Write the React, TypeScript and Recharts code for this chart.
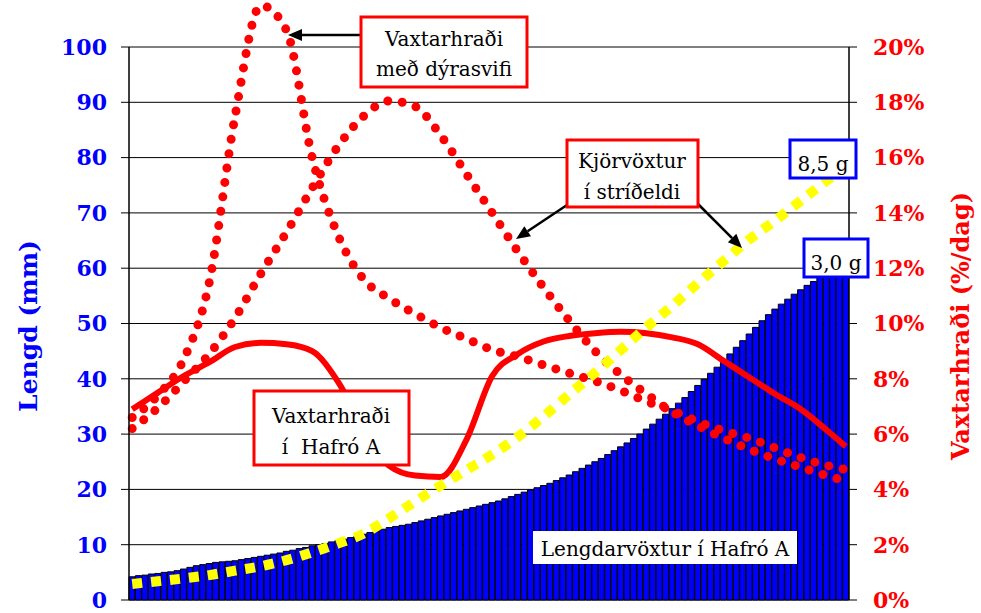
import { ComposedChart, Bar, Line, XAxis, YAxis, CartesianGrid } from 'recharts';

// Lengd (mm) per day, bars
const lengthMm = [
  4.2, 4.4, 4.5, 4.7, 4.8, 5.0, 5.1, 5.3, 5.6, 5.9,
  6.2, 6.4, 6.6, 6.8, 6.9, 7.0, 7.1, 7.3, 7.5, 7.7,
  7.9, 8.1, 8.3, 8.5, 8.8, 9.0, 9.3, 9.5, 9.8, 10.0,
  10.2, 10.5, 10.7, 11.0, 11.3, 11.6, 11.9, 12.2, 12.5, 12.8,
  13.1, 13.3, 13.5, 13.7, 14.0, 14.3, 14.6, 14.9, 15.2, 15.5,
  15.8, 16.1, 16.4, 16.7, 17.0, 17.3, 17.6, 17.9, 18.3, 18.7,
  19.1, 19.5, 19.9, 20.3, 20.7, 21.1, 21.6, 22.1, 22.6, 23.2,
  23.8, 24.4, 25.0, 25.6, 26.3, 27.0, 27.7, 28.4, 29.2, 30.0,
  30.9, 31.8, 32.7, 33.6, 34.6, 35.6, 36.6, 37.7, 38.8, 39.9,
  41.0, 42.1, 43.3, 44.5, 45.7, 46.9, 48.1, 49.3, 50.5, 51.6,
  52.6, 53.5, 54.4, 55.3, 56.1, 56.9, 57.6, 58.3, 59.0, 59.6,
  60.1, 60.6,
];

const sampleDays = [0, 4, 8, 12, 16, 20, 24, 28, 32, 36, 40, 44, 48, 52, 56, 60, 64, 68, 72, 76, 80, 84, 88, 92, 96, 100, 104, 108, 111];

// Vaxtarhraði í Hafró A (%/dag)
const rateHafro = [6.9, 7.5, 8.1, 8.6, 9.15, 9.3, 9.25, 9.0, 7.9, 6.2, 4.85, 4.5, 4.45, 5.8, 8.1, 8.9, 9.35, 9.55, 9.65, 9.7, 9.65, 9.5, 9.25, 8.65, 8.05, 7.45, 6.9, 6.15, 5.55];
// Vaxtarhraði með dýrasvifi (%/dag)
const rateZoo = [6.6, 7.4, 8.7, 11.5, 17.5, 21.5, 20.6, 16.0, 13.2, 11.6, 10.9, 10.35, 9.85, 9.45, 9.05, 8.8, 8.5, 8.2, 7.92, 7.58, 7.18, 6.85, 6.45, 6.12, 5.85, 5.5, 5.15, 4.87, 4.72];
// Kjörvöxtur í stríðeldi (%/dag)
const rateBest = [6.2, 6.95, 7.9, 8.9, 10.2, 11.8, 13.3, 14.9, 16.4, 17.5, 18.05, 17.85, 16.8, 15.4, 14.0, 12.6, 11.3, 10.1, 9.0, 8.15, 7.45, 6.8, 6.3, 5.85, 5.45, 5.1, 4.8, 4.5, 4.3];
// length with optimal growth (mm), yellow
const lengthBest = [2.9, 3.4, 3.9, 4.5, 5.3, 6.1, 7.2, 8.6, 10.2, 12.0, 14.8, 17.8, 20.7, 23.5, 26.3, 29.5, 33.2, 37.2, 41.1, 45.2, 49.3, 53.2, 57.3, 61.3, 65.2, 68.6, 72.2, 75.8, 78.4];

const lengthTicks = [0, 10, 20, 30, 40, 50, 60, 70, 80, 90, 100];
const rateTicks = [0, 2, 4, 6, 8, 10, 12, 14, 16, 18, 20];

const data = lengthMm.map((len, i) => {
  const k = sampleDays.indexOf(i);
  return {
    day: i + 1,
    len,
    hafro: k >= 0 ? rateHafro[k] : null,
    zoo: k >= 0 ? rateZoo[k] : null,
    best: k >= 0 ? rateBest[k] : null,
    lenBest: k >= 0 ? lengthBest[k] : null,
  };
});

const font = "'DejaVu Serif', serif";
const RED = '#FF0000';
const BLUE = '#0000FF';

const Arrow = ({ x1, y1, x2, y2 }: { x1: number; y1: number; x2: number; y2: number }) => {
  const a = Math.atan2(y2 - y1, x2 - x1);
  const len = 14;
  const w = 6;
  const bx = x2 - len * Math.cos(a);
  const by = y2 - len * Math.sin(a);
  const p1 = `${bx + w * Math.sin(a)},${by - w * Math.cos(a)}`;
  const p2 = `${bx - w * Math.sin(a)},${by + w * Math.cos(a)}`;
  return (
    <g>
      <line x1={x1} y1={y1} x2={bx} y2={by} stroke="#000" strokeWidth={2.5} />
      <polygon points={`${x2},${y2} ${p1} ${p2}`} fill="#000" />
    </g>
  );
};

const Overlay = () => (
  <svg width={981} height={613} style={{ position: 'absolute', left: 0, top: 0, pointerEvents: 'none' }}>
    <text x={28} y={326} transform="rotate(-90 28 326)" textAnchor="middle" dominantBaseline="central"
      fill={BLUE} fontFamily={font} fontWeight="bold" fontSize={25}>Lengd (mm)</text>
    <text x={960} y={326} transform="rotate(-90 960 326)" textAnchor="middle" dominantBaseline="central"
      fill={RED} fontFamily={font} fontWeight="bold" fontSize={24}>Vaxtarhraði (%/dag)</text>

    <Arrow x1={360} y1={35} x2={288} y2={35} />
    <rect x={361} y={17} width={166} height={70} fill="#fff" stroke={RED} strokeWidth={3} />
    <text x={444} y={46} textAnchor="middle" fontFamily={font} fontSize={20}>Vaxtarhraði</text>
    <text x={444} y={76} textAnchor="middle" fontFamily={font} fontSize={20}>með dýrasvifi</text>

    <Arrow x1={567} y1={205} x2={516} y2={239} />
    <Arrow x1={698} y1={204} x2={742} y2={248} />
    <rect x={567} y={140} width={131} height={67} fill="#fff" stroke={RED} strokeWidth={3} />
    <text x={632} y={168} textAnchor="middle" fontFamily={font} fontSize={20}>Kjörvöxtur</text>
    <text x={632} y={199} textAnchor="middle" fontFamily={font} fontSize={20}>í stríðeldi</text>

    <rect x={790} y={140} width={66} height={38} fill="#fff" stroke={BLUE} strokeWidth={3} />
    <text x={823} y={171} textAnchor="middle" fontFamily={font} fontSize={20}>8,5 g</text>
    <rect x={804} y={239} width={64} height={38} fill="#fff" stroke={BLUE} strokeWidth={3} />
    <text x={836} y={270} textAnchor="middle" fontFamily={font} fontSize={20}>3,0 g</text>

    <rect x={254} y={391} width={155} height={74} fill="#fff" stroke={RED} strokeWidth={3} />
    <text x={331} y={423} textAnchor="middle" fontFamily={font} fontSize={20}>Vaxtarhraði</text>
    <text x={331} y={454} textAnchor="middle" fontFamily={font} fontSize={20} xmlSpace="preserve">í  Hafró A</text>

    <rect x={533} y={531} width={264} height={33} fill="#fff" />
    <text x={665} y={556} textAnchor="middle" fontFamily={font} fontSize={20}>Lengdarvöxtur í Hafró A</text>
  </svg>
);

const App = () => {
  return (
    <div style={{ position: 'absolute', left: 0, top: 0, width: 981, height: 613, background: '#fff' }}>
      <ComposedChart width={981} height={613} data={data} margin={{ top: 0, right: 0, bottom: 13, left: 0 }}
        barCategoryGap={0} barGap={0}>
        <CartesianGrid yAxisId="len" vertical={false} syncWithTicks stroke="#000" strokeWidth={1} />
        <XAxis dataKey="day" hide />
        <YAxis yAxisId="len" orientation="left" width={129} domain={[0, 108.5]} ticks={lengthTicks}
          interval={0} tickSize={8} tickMargin={14}
          axisLine={{ stroke: '#000', strokeWidth: 1.5, strokeDasharray: '0 47 553' }}
          tickLine={{ stroke: '#000' }}
          tick={{ fill: BLUE, fontSize: 22, fontWeight: 'bold', fontFamily: font }} />
        <YAxis yAxisId="rate" orientation="right" width={132} domain={[0, 21.7]} ticks={rateTicks}
          interval={0} tickSize={8} tickMargin={16}
          tickFormatter={(v: number) => `${v}%`}
          axisLine={{ stroke: '#000', strokeWidth: 1.5, strokeDasharray: '0 47 553' }}
          tickLine={{ stroke: '#000' }}
          tick={{ fill: RED, fontSize: 22, fontWeight: 'bold', fontFamily: font }} />
        <Bar yAxisId="len" dataKey="len" fill={BLUE} stroke="#000" strokeWidth={1} isAnimationActive={false} />
        <Line yAxisId="rate" dataKey="hafro" type="monotone" stroke={RED} strokeWidth={6} dot={false}
          activeDot={false} connectNulls isAnimationActive={false} />
        <Line yAxisId="rate" dataKey="zoo" type="monotone" stroke={RED} strokeWidth={9} strokeDasharray="0 14.5"
          strokeLinecap="round" dot={false} activeDot={false} connectNulls isAnimationActive={false} />
        <Line yAxisId="rate" dataKey="best" type="monotone" stroke={RED} strokeWidth={9} strokeDasharray="0 14.5"
          strokeLinecap="round" dot={false} activeDot={false} connectNulls isAnimationActive={false} />
        <Line yAxisId="len" dataKey="lenBest" type="monotone" stroke="#FFFF00" strokeWidth={10} strokeDasharray="10 9"
          dot={false} activeDot={false} connectNulls isAnimationActive={false} />
      </ComposedChart>
      <Overlay />
    </div>
  );
};

export default App;
